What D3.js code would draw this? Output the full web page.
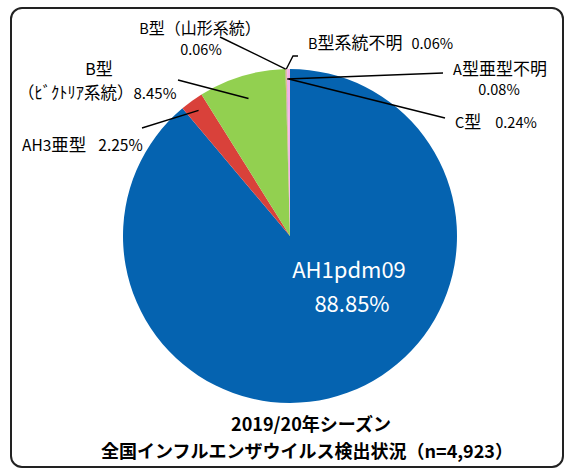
<!DOCTYPE html>
<html>
<head>
<meta charset="utf-8">
<script src="https://cdn.jsdelivr.net/npm/d3@7"></script>
<style>
  body { margin: 0; background: #fff; }
  text { font-family: "Noto Sans CJK JP", "Noto Sans", sans-serif; }
</style>
</head>
<body>
<div id="container"></div>
<script>
const width = 568;
const height = 470;

// data
const categories = ['AH1pdm09', 'AH3亜型', 'B型（ﾋﾞｸﾄﾘｱ系統）', 'B型（山形系統）', 'B型系統不明', 'A型亜型不明', 'C型'];
const values = [88.85, 2.25, 8.45, 0.06, 0.06, 0.08, 0.24];
const colors = ['#0563b0', '#d9413a', '#92d050', '#b0a080', '#f0a860', '#c8a0e0', '#f4b0e8'];
const titleLines = ['2019/20年シーズン', '全国インフルエンザウイルス検出状況（n=4,923）'];

const svg = d3.select('#container').append('svg')
    .attr('width', width)
    .attr('height', height);

// frame
svg.append('rect')
    .attr('x', 11).attr('y', 8)
    .attr('width', 552).attr('height', 459)
    .attr('rx', 11)
    .attr('fill', 'none')
    .attr('stroke', '#222')
    .attr('stroke-width', 2);

const cx = 290, cy = 236, r = 167;

const pie = d3.pie().sort(null).value(d => d)(values);
const arc = d3.arc().innerRadius(0).outerRadius(r);

const g = svg.append('g').attr('transform', `translate(${cx},${cy})`);

g.selectAll('path')
    .data(pie)
    .join('path')
    .attr('d', arc)
    .attr('fill', (d, i) => colors[i]);

// point inside a slice at fraction k of the radius
const pt = (i, k) => {
    const a = (pie[i].startAngle + pie[i].endAngle) / 2;
    return [cx + Math.sin(a) * r * k, cy - Math.cos(a) * r * k];
};

const fmt = v => v.toFixed(2) + '%';

// leader lines: slice index, depth into slice, outer end
const leaders = [
    { i: 1, k: 0.93, to: [142, 128] },
    { i: 2, k: 0.86, to: [178, 80] },
    { i: 3, k: 1.0, to: [220, 37] },
    { i: 4, k: 1.0, to: [[293, 56], [298, 56]] },
    { i: 5, k: 0.94, to: [443, 73] },
    { i: 6, k: 0.94, to: [445, 118] }
];

leaders.forEach(l => {
    const p0 = pt(l.i, l.k);
    const pts = Array.isArray(l.to[0]) ? [p0, ...l.to] : [p0, l.to];
    svg.append('path')
        .attr('d', d3.line()(pts))
        .attr('fill', 'none')
        .attr('stroke', '#000')
        .attr('stroke-width', 1.4);
});

// japanese glyphs are drawn a bit larger than latin ones, like the original
const wide = /[\u3000-\u9fff\uff00-\uffef]/;
const label = (x, y, parts, anchor, opts = {}) => {
    const t = svg.append('text')
        .attr('x', x).attr('y', y)
        .attr('text-anchor', anchor || 'start')
        .attr('font-weight', opts.weight || 'normal')
        .attr('fill', opts.fill || '#000')
        .attr('font-size', opts.size || 14);
    [].concat(parts).forEach((txt, pi) => {
        const runs = [];
        for (const ch of txt) {
            const w = wide.test(ch);
            if (runs.length && runs[runs.length - 1].w === w) runs[runs.length - 1].s += ch;
            else runs.push({ w, s: ch });
        }
        runs.forEach((run, ri) => {
            t.append('tspan')
                .attr('dx', pi > 0 && ri === 0 ? (opts.gap || 8) : null)
                .attr('font-size', run.w ? (opts.wsize || opts.size || 14) : (opts.size || 14))
                .text(run.s);
        });
    });
    return t;
};

// AH1pdm09 inside
label(349, 278, categories[0], 'middle', { size: 22, fill: '#fff' });
label(352, 312, fmt(values[0]), 'middle', { size: 22, fill: '#fff' });

const small = { size: 14.5, wsize: 17 };
label(22, 151, [categories[1], fmt(values[1])], 'start', { size: 15.5, wsize: 17.5, gap: 12 });
label(99, 75, 'B型', 'middle', { size: 16, wsize: 17 });
label(18, 99, '（ﾋﾞｸﾄﾘｱ系統）' + fmt(values[2]), 'start', { size: 15, wsize: 16.5 });
label(200, 34, categories[3], 'middle', { ...small, wsize: 16 });
label(201, 55, fmt(values[3]), 'middle', small);
label(308, 49, [categories[4], fmt(values[4])], 'start', { ...small, gap: 9 });
label(500, 75, categories[5], 'middle', small);
label(499, 95, fmt(values[5]), 'middle', small);
label(455, 128, [categories[6], fmt(values[6])], 'start', { ...small, gap: 14 });

label(311, 431, titleLines[0], 'middle', { size: 18, weight: 'bold' });
label(307, 458, titleLines[1], 'middle', { size: 18, weight: 'bold' });
</script>
</body>
</html>
